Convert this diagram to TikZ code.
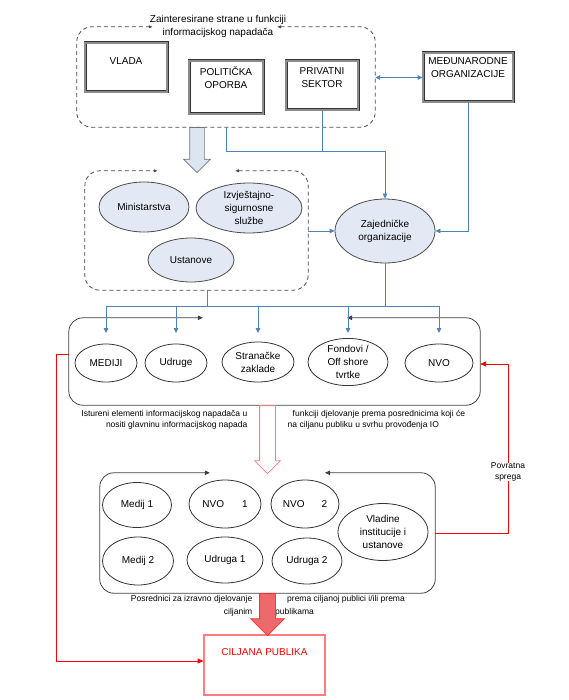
\documentclass[tikz,border=0pt]{standalone}
\usepackage{fontspec}
\setmainfont{Liberation Sans}
\usetikzlibrary{arrows.meta,shapes.geometric,shapes.arrows}
\definecolor{linkblue}{HTML}{4F81BD}
\definecolor{agencyfill}{HTML}{E3E9F4}
\definecolor{arrowfill}{HTML}{DCE6F2}
\definecolor{softred}{HTML}{FF7C80}
\definecolor{solidred}{HTML}{EE6A6A}
\begin{document}
\begin{tikzpicture} [
                x=1pt, y=-1pt,
                every node/.style={font=\fontsize{10}{13}\selectfont, align=center},
                frame/.style={rectangle, inner sep=0pt},
                dashed frame/.style={draw=black!70, line width=0.8pt, dash pattern=on 4pt off 3pt, rounded corners=15pt,
                    {Latex[length=4pt,width=3.5pt]}-{Latex[length=4pt,width=3.5pt]}},
                solid frame/.style={draw=black!75, line width=0.8pt, rounded corners=14pt,
                    {Triangle[length=5pt,width=4.5pt]}-{Triangle[length=5pt,width=4.5pt]}},
                actor/.style={rectangle, draw=black!80, line width=0.8pt, double=black!45, double distance=1.4pt, inner sep=0pt},
                target/.style={rectangle, draw=red, line width=0.8pt, double=softred, double distance=1.2pt, inner sep=0pt},
                box text/.style={anchor=north, inner sep=0pt},
                agency/.style={ellipse, draw=black!70, fill=agencyfill, line width=0.8pt, inner sep=0pt},
                member/.style={ellipse, draw=black!80, fill=white, line width=0.8pt, inner sep=0pt},
                blue link/.style={draw=linkblue, line width=0.8pt},
                blue arrow/.style={blue link, -{Triangle[length=5pt,width=4.5pt]}},
                red link/.style={draw=red, line width=0.8pt},
                red arrow/.style={red link, -{Triangle[length=6pt,width=5pt]}},
                caption/.style={font=\fontsize{8.5}{10.5}\selectfont, inner sep=0pt},
                big arrow/.style={single arrow, rotate=-90, anchor=tail, inner xsep=0pt},
            ]
            \useasboundingbox (0,0) rectangle (568,700);
            % First the interested parties
            \node[frame, minimum width=298pt, minimum height=100pt] (strane) at (226,77) {};
            \node (naslov) at (218,26.5) {Zainteresirane strane u funkciji\\informacijskog napadača};
            \node[actor, minimum width=82pt, minimum height=49pt,
                label={[box text, yshift=-15pt]90:VLADA}] (vlada) at (126,67.5) {};
            \node[actor, minimum width=74pt, minimum height=53pt,
                label={[box text, yshift=-6pt]90:POLITIČKA\\OPORBA}] (oporba) at (226,87.5) {};
            \node[actor, minimum width=72pt, minimum height=49pt,
                label={[box text, yshift=-7pt]90:PRIVATNI\\SEKTOR}] (privatni) at (322,85.5) {};
            \node[actor, minimum width=90pt, minimum height=49pt,
                label={[box text, yshift=-5pt]90:MEĐUNARODNE\\ORGANIZACIJE}] (medjunarodne) at (468,77.5) {};
            \draw[dashed frame] ([xshift=51pt]strane.north) -| (strane.south east) -| (strane.north west) -- ++(76,0);
            % State bodies and joint organisations
            \node[frame, minimum width=223pt, minimum height=119pt] (tijela) at (196.5,230.5) {};
            \foreach \pos/\name/\w/\h/\txt in {
                    {(144,207)/ministarstva/90/50/Ministarstva},
                    {(249,208)/sluzbe/106/50/{Izvještajno-\\sigurnosne\\službe}},
                    {(191,260)/ustanove/86/44/Ustanove},
                    {(385,231)/zajednicke/100/64/{Zajedničke\\organizacije}}}
                \node[agency, minimum width=\w pt, minimum height=\h pt] (\name) at \pos {\txt};
            \draw[dashed frame] ([xshift=38.5pt]tijela.north) -| (tijela.south east) -| (tijela.north west) -- ++(73,0);
            \node[big arrow, draw=black!55, fill=arrowfill, line width=0.7pt, inner ysep=7pt,
                single arrow head extend=6pt, minimum height=45pt] (strelica strane) at ([xshift=-29pt]strane.south) {};
            % Forward elements
            \node[frame, minimum width=411pt, minimum height=87pt] (isturene) at (274.5,361.5) {};
            \foreach \pos/\name/\w/\h/\txt in {
                    {(106,363)/mediji/62/38/MEDIJI},
                    {(176,363)/udruge/62/38/Udruge},
                    {(258,362)/zaklade/72/40/{Stranačke\\zaklade}},
                    {(348,362)/fondovi/80/46/{Fondovi /\\Off shore\\tvrtke}},
                    {(439,363)/nvo/68/38/NVO}}
                \node[member, minimum width=\w pt, minimum height=\h pt] (\name) at \pos {\txt};
            \draw[solid frame] ([xshift=72.5pt]isturene.north) -| (isturene.south east) -| (isturene.north west) -- ++(134,0);
            \node[caption, anchor=north east, align=right] (opis isturenih) at ([xshift=-27pt,yshift=-5pt]isturene.south)
                {Istureni elementi informacijskog napadača u\\nositi glavninu informacijskog napada};
            \node[caption, anchor=north west, align=left] (opis djelovanja) at ([xshift=13pt,yshift=-5pt]isturene.south)
                {\hspace*{5pt}funkciji djelovanje prema posrednicima koji će\\na ciljanu publiku u svrhu provođenja IO};
            % Intermediaries
            \node[frame, minimum width=335pt, minimum height=120pt] (posrednici) at (267.5,533) {};
            \foreach \pos/\name/\w/\h/\txt in {
                    {(137,505)/medij1/69/45/Medij 1},
                    {(225,504)/nvo1/72/48/{NVO\hspace{18pt}1}},
                    {(305,504)/nvo2/68/48/{NVO\hspace{17pt}2}},
                    {(138,561)/medij2/71/48/Medij 2},
                    {(225,560)/udruga1/76/46/Udruga 1},
                    {(307,561)/udruga2/70/46/Udruga 2},
                    {(383,532)/vladine/90/57/{Vladine\\institucije i\\ustanove}}}
                \node[member, minimum width=\w pt, minimum height=\h pt] (\name) at \pos {\txt};
            \draw[solid frame] ([xshift=57.5pt]posrednici.north) -| (posrednici.south east) -| (posrednici.north west) -- ++(110,0);
            \node[big arrow, draw=softred, fill=white, line width=0.8pt, inner ysep=7.5pt,
                single arrow head extend=5pt, minimum height=68pt] (strelica isturene) at ([xshift=-7pt]isturene.south) {};
            \node[caption, font=\fontsize{8.5}{13}\selectfont, anchor=north east, align=right] (opis posrednika)
                at ([xshift=-15pt,yshift=-2pt]posrednici.south) {Posrednici za izravno djelovanje\\ciljanim};
            \node[caption, font=\fontsize{8.5}{13}\selectfont, anchor=north west, align=left] (opis publike)
                at ([xshift=7.5pt,yshift=-2pt]posrednici.south) {\hspace*{12pt}prema ciljanoj publici i/ili prema\\publikama};
            % Target audience
            \node[target, minimum width=121pt, minimum height=60pt,
                label={[box text, yshift=-14pt, text=red]90:CILJANA PUBLIKA}] (ciljana) at (264.5,665) {};
            \node[big arrow, draw=red!80, fill=solidred, line width=0.8pt, inner ysep=7.5pt,
                single arrow head extend=9pt, minimum height=42pt] (strelica posrednici) at (posrednici.south) {};
            % Connect the parties with blue links
            \draw[blue link, {Triangle[length=5pt,width=4.5pt]}-{Triangle[length=5pt,width=4.5pt]}]
                (strane.east |- medjunarodne) -- (medjunarodne.west);
            \draw[blue link] (privatni.south) -- ++(0,41);
            \draw[blue arrow] (strane.south) -- ++(0,24) -| (zajednicke.north);
            \draw[blue arrow] (medjunarodne.south) |- (zajednicke.east);
            \draw[blue arrow] (tijela.east |- zajednicke) -- (zajednicke.west);
            \coordinate (sabirnica) at (0,306);
            \coordinate (tijela izlaz) at ([xshift=11pt]tijela.south);
            \draw[blue link] (tijela izlaz) -- (tijela izlaz |- sabirnica);
            \draw[blue link] (zajednicke.south) -- (zajednicke.south |- sabirnica);
            \draw[blue link] (mediji |- sabirnica) -- (nvo |- sabirnica);
            \foreach \cilj in {mediji, udruge, zaklade, fondovi, nvo}
                \draw[blue arrow] (\cilj |- sabirnica) -- ++(0,27);
            % Red links and feedback
            \draw[red arrow] ([yshift=7pt]isturene.west) -- ++(-12,0) |- ([yshift=4pt]ciljana.west);
            \node[caption] (povratna) at (508,472) {Povratna\\sprega};
            \draw[red link] (posrednici.east) -| (povratna.south);
            \draw[red arrow] (povratna.north) |- ([yshift=-2.5pt]isturene.east);
        \end{tikzpicture}
\end{document}
